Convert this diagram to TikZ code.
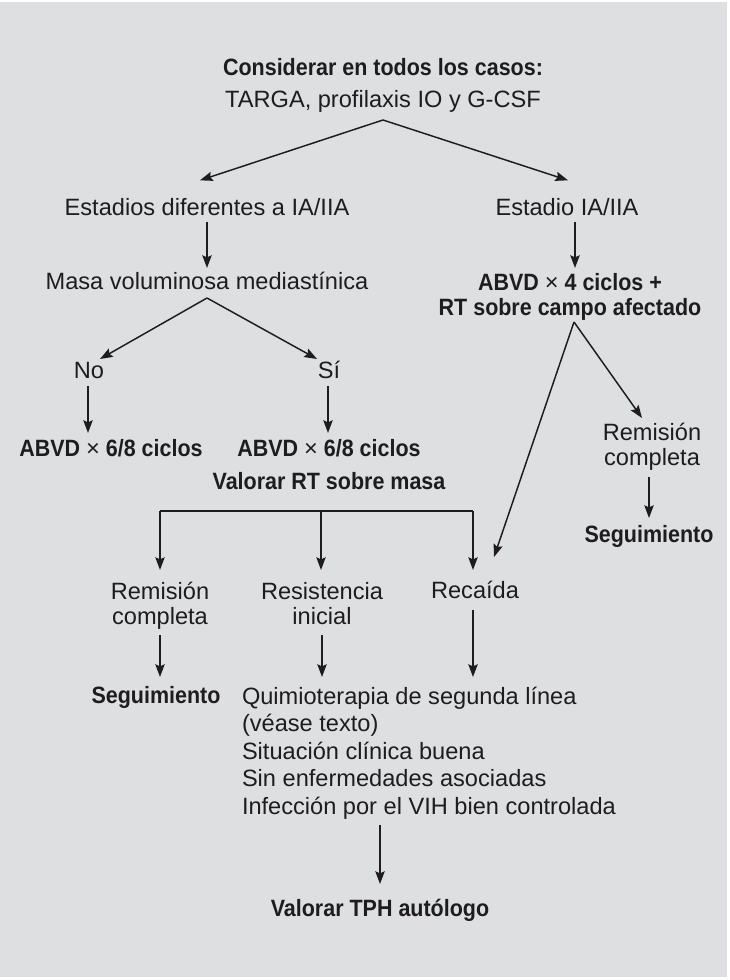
\documentclass[tikz,border=0pt]{standalone}
\usepackage{fontspec}
\setmainfont{Liberation Sans}[BoldFeatures={FakeStretch=0.91}]
\usetikzlibrary{arrows.meta}
\definecolor{bgc}{RGB}{222,223,225}
\definecolor{ink}{RGB}{30,28,30}
\newcommand\zs{\rule[-3.8pt]{0pt}{16.4pt}}
\newcommand\tms{{\mdseries ×}}
\begin{document}
\begin{tikzpicture}[x=0.75pt,y=-0.75pt,
  arr/.style={draw=ink, line width=1.1pt, -{Stealth[length=9.5pt,width=7pt,inset=1.5pt]}},
  ln/.style={draw=ink, line width=1.1pt},
  lbl/.style={inner sep=0pt, outer sep=0pt, text=ink, text height=12.6pt, text depth=3.8pt,
    font=\fontsize{17.7}{18.75}\selectfont, anchor=north},
  blbl/.style={lbl, font=\fontsize{17.7}{18.75}\selectfont\bfseries},
  mlbl/.style={inner sep=0pt, outer sep=0pt, text=ink, anchor=north, align=center,
    font=\fontsize{17.7}{18.75}\selectfont},
  mblbl/.style={mlbl, font=\fontsize{17.7}{18.75}\selectfont\bfseries},
]
\useasboundingbox (0,0) rectangle (730,980);
\fill[bgc] (0,2) rectangle (727,977);

% nodes (anchor north = cap top)
\node[blbl] (cons) at (383,59) {Considerar en todos los casos:};
\node[lbl] (targa) at (383,91) {TARGA, profilaxis IO y G-CSF};
\node[lbl] (est) at (207,199) {Estadios diferentes a IA/IIA};
\node[lbl] (ia) at (567,199) {Estadio IA/IIA};
\node[lbl] (masa) at (207,273) {Masa voluminosa mediastínica};
\node[mblbl] (abvdiv) at (570,273) {\zs ABVD \tms{} 4 ciclos +\\\zs RT sobre campo afectado};
\node[lbl] (no) at (89,362) {No};
\node[lbl] (si) at (329,362) {Sí};
\node[blbl] (abvdno) at (111,440) {ABVD \tms{} 6/8 ciclos};
\node[blbl] (abvdsi) at (329,440) {ABVD \tms{} 6/8 ciclos};
\node[blbl] (valrt) at (329,473) {Valorar RT sobre masa};
\node[mlbl] (remr) at (652,423) {\zs Remisión\\\zs completa};
\node[blbl] (segr) at (649,526) {Seguimiento};
\node[mlbl] (reml) at (160,582) {\zs Remisión\\\zs completa};
\node[mlbl] (resi) at (322,582) {\zs Resistencia\\\zs inicial};
\node[lbl] (reca) at (475,582) {Recaída};
\node[blbl] (segl) at (156,687) {Seguimiento};
\node[mlbl, anchor=north west, align=left, font=\fontsize{17.7}{20.6}\selectfont] (quim) at (242,687)
  {\zs Quimioterapia de segunda línea\\\zs (véase texto)\\\zs Situación clínica buena\\\zs Sin enfermedades asociadas\\\zs Infección por el VIH bien controlada};
\node[blbl] (tph) at (380,900) {Valorar TPH autólogo};

% helper coordinates
\coordinate (ap1) at (383,120);
\coordinate (ap2) at (207,298);
\coordinate (ap3) at (574,322);
\coordinate (brl) at (160,511);
\coordinate (brm) at (321,511);
\coordinate (brr) at (473,511);

% top split
\draw[arr] (ap1) -- ([xshift=-5.25pt,yshift=14pt]est.north);
\draw[arr] (ap1) -- ([xshift=0.75pt,yshift=14pt]ia.north);
% vertical
\draw[arr, shorten <=0.75pt, shorten >=3.75pt] (est.south) -- (masa.north);
\draw[arr, shorten <=0.75pt, shorten >=3.75pt] ([xshift=6pt]ia.south) -- ([xshift=6pt]ia.south |- abvdiv.north);
% masa split
\draw[arr] (ap2) -- ([xshift=8.25pt,yshift=2.25pt]no.north);
\draw[arr] (ap2) -- ([xshift=-9pt,yshift=2.25pt]si.north);
\draw[arr, shorten <=1.5pt, shorten >=5.25pt] ([xshift=-0.75pt]no.south) -- ([xshift=-0.75pt]no.south |- abvdno.north);
\draw[arr, shorten <=1.5pt, shorten >=5.25pt] ([xshift=-0.75pt]si.south) -- ([xshift=-0.75pt]si.south |- abvdsi.north);
% right branch
\draw[arr] (ap3) -- ([xshift=14.25pt,yshift=18.75pt]reca.north);
\draw[arr] (ap3) -- ([xshift=-7.5pt,yshift=3.75pt]remr.north);
\draw[arr, shorten <=5.25pt, shorten >=6pt] ([xshift=-2.25pt]remr.south) -- ([xshift=-2.25pt]remr.south |- segr.north);
% bracket
\draw[ln] (brl) -- (brr);
\draw[arr, shorten >=9pt] (brl) -- (brl |- reml.north);
\draw[arr, shorten >=9pt] (brm) -- (brm |- resi.north);
\draw[arr, shorten >=9pt] (brr) -- (brr |- reca.north);
% lower arrows
\draw[arr, shorten <=4.5pt, shorten >=7.5pt] (reml.south) -- (reml.south |- segl.north);
\draw[arr, shorten <=4.5pt, shorten >=7.5pt] (resi.south) -- (resi.south |- quim.north);
\draw[arr, shorten <=4.5pt, shorten >=7.5pt] ([xshift=-1.5pt]reca.south) -- ([xshift=-1.5pt]reca.south |- quim.north);
\draw[arr, shorten <=4.5pt, shorten >=12pt] (tph.north |- quim.south) -- (tph.north);
\end{tikzpicture}
\end{document}
